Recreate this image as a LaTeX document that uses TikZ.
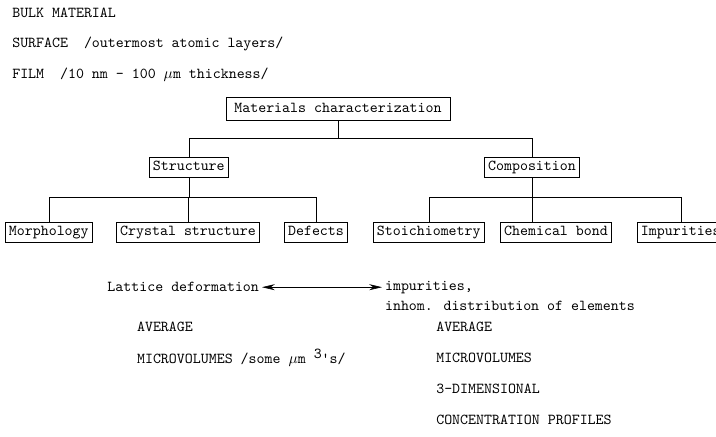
\documentclass[tikz,border=0pt]{standalone}
\usetikzlibrary{arrows.meta}

\begin{document}
\begin{tikzpicture}[%
        line width = 0.4pt,
        font = \fontsize{10.8}{13}\ttfamily,
        > = {Stealth[length = 3.2mm, width = 1.5mm]},
        box/.style = {
            draw,
            inner xsep = 2.5pt,
            inner ysep = 2pt,
            text height = 7.5pt,
            text depth = 2.5pt
        },
        txt/.style = {anchor = west, inner sep = 0pt}
    ]

        % Page size of the figure.
        \useasboundingbox (0.0, 0.0) rectangle (17.9, 10.9);
        \clip (0.0, 0.0) rectangle (17.9, 10.9);

        % Three kinds of samples.
        \node[txt] (bulk) at (0.3, 10.58) {BULK MATERIAL};
        \node[txt] (surf) at (0.3, 9.80) {SURFACE \ /outermost atomic layers/};
        \node[txt] (film) at (0.3, 9.03) {FILM \ /10 nm - 100 $\mu$m thickness/};

        % Top of the tree and its two branches.
        \node[box, inner ysep = 3.5pt, inner xsep = 6pt] (mat) at (8.45, 8.18) {Materials characterization};
        \node[box] (struct) at (4.72, 6.72) {Structure};
        \node[box] (comp) at (13.30, 6.72) {Composition};

        % Bottom row of boxes.
        \node[box] (morph) at (1.22, 5.10) {Morphology};
        \node[box] (cryst) at (4.70, 5.10) {Crystal structure};
        \node[box] (defect) at (7.90, 5.10) {Defects};
        \node[box] (stoich) at (10.72, 5.10) {Stoichiometry};
        \node[box] (chem) at (13.90, 5.10) {Chemical bond};
        \node[box] (impur) at (17.02, 5.10) {Impurities};

        % Levels of the horizontal bars.
        \coordinate (barA) at (0.0, 7.45);
        \coordinate (barB) at (0.0, 5.98);

        % Connectors from the top box to the branches.
        \draw (mat.south) -- (mat.south |- barA);
        \draw (struct.north) |- (comp.north |- barA) -- (comp.north);

        % Connectors below the structure box.
        \draw (struct.south) -- (struct.south |- barB);
        \draw (morph.north) |- (defect.north |- barB) -- (defect.north);
        \draw (cryst.north) -- (cryst.north |- barB);

        % Connectors below the composition box.
        \draw (comp.south) -- (comp.south |- chem.north);
        \draw (stoich.north) |- (impur.north |- barB) -- (impur.north);

        % Relation between lattice deformation and impurities.
        \node[txt] (latt) at (2.68, 3.72) {Lattice deformation};
        \node[txt] (imp) at (9.62, 3.72) {impurities,};
        \node[txt] (inhom) at (9.62, 3.25) {inhom. distribution of elements};
        \draw[<->] ([xshift = 2pt] latt.east) -- ([xshift = -2pt] imp.west);

        % Information given by the two sides.
        \node[txt] (avgL) at (3.42, 2.72) {AVERAGE};
        \node[txt] (microL) at (3.42, 1.95) {MICROVOLUMES /some $\mu$m \raisebox{0.7ex}{3}'s/};
        \node[txt] (avgR) at (10.90, 2.72) {AVERAGE};
        \node[txt] (microR) at (10.90, 1.95) {MICROVOLUMES};
        \node[txt] (dimR) at (10.90, 1.18) {3-DIMENSIONAL};
        \node[txt] (concR) at (10.90, 0.40) {CONCENTRATION PROFILES};
    \end{tikzpicture}
\end{document}
